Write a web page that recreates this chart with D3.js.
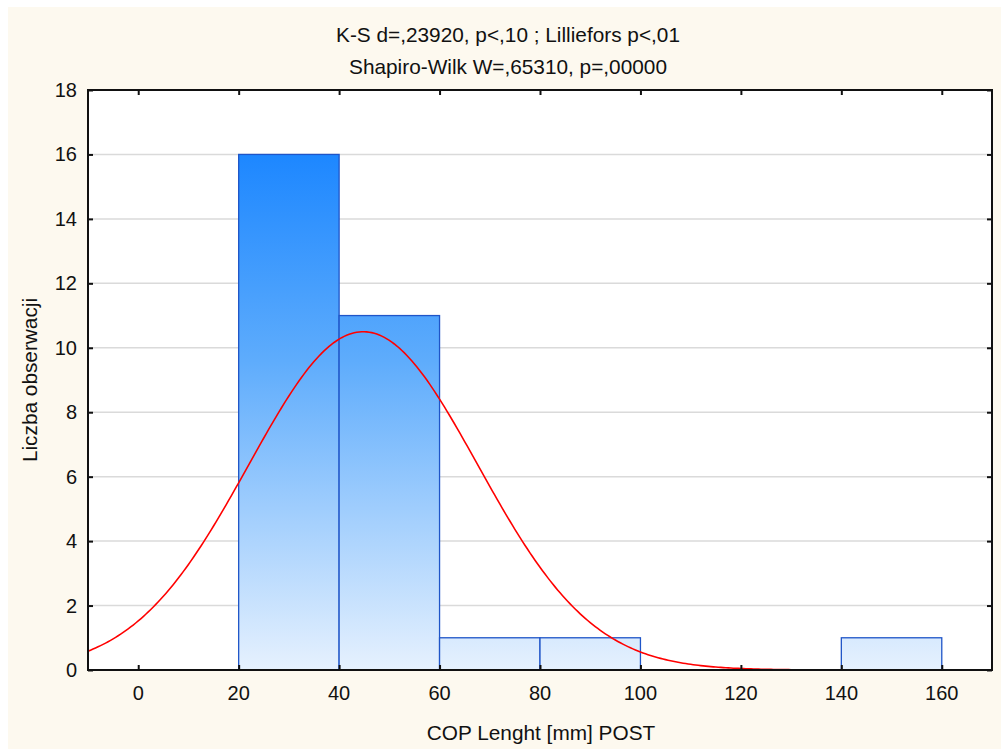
<!DOCTYPE html>
<html>
<head>
<meta charset="utf-8">
<script src="https://cdn.jsdelivr.net/npm/d3@7"></script>
<style>
  html, body { margin: 0; padding: 0; background: #fff; }
  text { font-family: Arial, "Liberation Sans", sans-serif; fill: #111; }
</style>
</head>
<body>
<div id="chart"></div>
<script>
// histogram bins (lower edge, width 20) and counts
const binStarts = [20, 40, 60, 80, 100, 120, 140];
const binCounts = [16, 11, 1, 1, 0, 0, 1];
const binWidth = 20;

const xTicks = [0, 20, 40, 60, 80, 100, 120, 140, 160];
const yTicks = [0, 2, 4, 6, 8, 10, 12, 14, 16, 18];

// fitted normal curve parameters
const fitMean = 44.8;
const fitSd = 22.8;
const fitN = 30;

const titleLines = ["K-S d=,23920, p<,10 ; Lilliefors p<,01", "Shapiro-Wilk W=,65310, p=,00000"];
const xLabel = "COP Lenght [mm] POST";
const yLabel = "Liczba obserwacji";

const W = 1001, H = 749;
const plot = { left: 88, right: 992, top: 90, bottom: 670 };

const svg = d3.select('#chart').append('svg')
  .attr('width', W)
  .attr('height', H);

svg.append('rect')
  .attr('x', 8).attr('y', 7)
  .attr('width', W - 8).attr('height', H - 7)
  .attr('fill', '#fdf9ef');

const x = d3.scaleLinear().domain([-10, 170]).range([plot.left, plot.right]);
const y = d3.scaleLinear().domain([0, 18]).range([plot.bottom, plot.top]);

svg.append('rect')
  .attr('x', plot.left).attr('y', plot.top)
  .attr('width', plot.right - plot.left).attr('height', plot.bottom - plot.top)
  .attr('fill', '#fff');

const defs = svg.append('defs');
const grad = defs.append('linearGradient')
  .attr('id', 'barGrad')
  .attr('gradientUnits', 'userSpaceOnUse')
  .attr('x1', 0).attr('x2', 0)
  .attr('y1', y(16)).attr('y2', y(0));
grad.append('stop').attr('offset', '0%').attr('stop-color', '#1d87ff');
grad.append('stop').attr('offset', '40%').attr('stop-color', '#5eacfc');
grad.append('stop').attr('offset', '100%').attr('stop-color', '#e6f1fe');

defs.append('clipPath').attr('id', 'clip')
  .append('rect')
  .attr('x', plot.left).attr('y', plot.top)
  .attr('width', plot.right - plot.left).attr('height', plot.bottom - plot.top);

// gridlines
svg.append('g')
  .selectAll('line')
  .data(yTicks.filter(d => d > 0 && d < 18))
  .enter().append('line')
  .attr('x1', plot.left).attr('x2', plot.right)
  .attr('y1', d => y(d)).attr('y2', d => y(d))
  .attr('stroke', '#dadada')
  .attr('stroke-width', 1.5);

// bars
const bins = binStarts.map((s, i) => ({ x0: s, x1: s + binWidth, n: binCounts[i] }))
  .filter(d => d.n > 0);

svg.append('g')
  .selectAll('rect')
  .data(bins)
  .enter().append('rect')
  .attr('x', d => x(d.x0))
  .attr('y', d => y(d.n))
  .attr('width', d => x(d.x1) - x(d.x0))
  .attr('height', d => y(0) - y(d.n))
  .attr('fill', 'url(#barGrad)')
  .attr('stroke', '#1f55c8')
  .attr('stroke-width', 1.3);

// normal fit curve
const curveXs = d3.range(-10, 170.5, 0.5);
const normal = v => fitN * binWidth / (fitSd * Math.sqrt(2 * Math.PI)) *
  Math.exp(-0.5 * Math.pow((v - fitMean) / fitSd, 2));

svg.append('path')
  .datum(curveXs)
  .attr('clip-path', 'url(#clip)')
  .attr('fill', 'none')
  .attr('stroke', '#ff0000')
  .attr('stroke-width', 1.6)
  .attr('d', d3.line().x(d => x(d)).y(d => y(normal(d))));

// axes (ticks inward on all four sides)
const tickLen = 5;
svg.append('g')
  .attr('transform', `translate(0,${plot.bottom})`)
  .call(d3.axisTop(x).tickValues(xTicks).tickSize(tickLen).tickFormat(''))
  .call(g => g.select('.domain').remove())
  .call(g => g.selectAll('line').attr('stroke', '#111').attr('stroke-width', 2));
svg.append('g')
  .attr('transform', `translate(0,${plot.top})`)
  .call(d3.axisBottom(x).tickValues(xTicks).tickSize(tickLen).tickFormat(''))
  .call(g => g.select('.domain').remove())
  .call(g => g.selectAll('line').attr('stroke', '#111').attr('stroke-width', 2));
svg.append('g')
  .attr('transform', `translate(${plot.left},0)`)
  .call(d3.axisRight(y).tickValues(yTicks).tickSize(tickLen).tickFormat(''))
  .call(g => g.select('.domain').remove())
  .call(g => g.selectAll('line').attr('stroke', '#111').attr('stroke-width', 2));
svg.append('g')
  .attr('transform', `translate(${plot.right},0)`)
  .call(d3.axisLeft(y).tickValues(yTicks).tickSize(tickLen).tickFormat(''))
  .call(g => g.select('.domain').remove())
  .call(g => g.selectAll('line').attr('stroke', '#111').attr('stroke-width', 2));

// frame
svg.append('rect')
  .attr('x', plot.left).attr('y', plot.top)
  .attr('width', plot.right - plot.left).attr('height', plot.bottom - plot.top)
  .attr('fill', 'none')
  .attr('stroke', '#111')
  .attr('stroke-width', 2);

// tick labels
svg.append('g')
  .selectAll('text')
  .data(xTicks)
  .enter().append('text')
  .attr('x', d => x(d))
  .attr('y', 700)
  .attr('text-anchor', 'middle')
  .style('font-size', '20px')
  .text(d => d);

svg.append('g')
  .selectAll('text')
  .data(yTicks)
  .enter().append('text')
  .attr('x', 77)
  .attr('y', d => y(d) + 7)
  .attr('text-anchor', 'end')
  .style('font-size', '20px')
  .text(d => d);

// titles
svg.append('g')
  .selectAll('text')
  .data(titleLines)
  .enter().append('text')
  .attr('x', 508)
  .attr('y', (d, i) => 42 + i * 32)
  .attr('text-anchor', 'middle')
  .style('font-size', '20.8px')
  .text(d => d);

svg.append('text')
  .attr('x', 541)
  .attr('y', 740)
  .attr('text-anchor', 'middle')
  .style('font-size', '20.8px')
  .text(xLabel);

svg.append('text')
  .attr('transform', `translate(37,${(plot.top + plot.bottom) / 2}) rotate(-90)`)
  .attr('text-anchor', 'middle')
  .style('font-size', '20.8px')
  .text(yLabel);
</script>
</body>
</html>
